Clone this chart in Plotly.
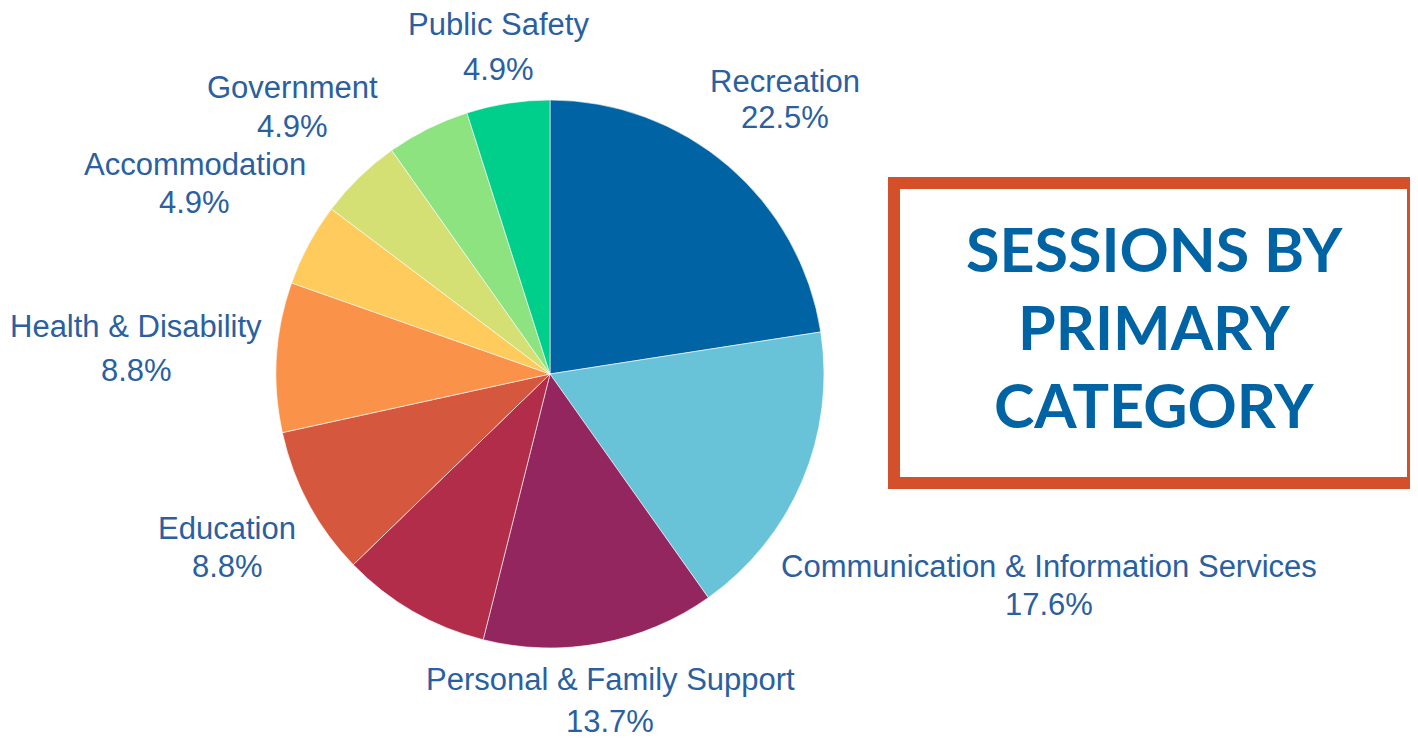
import plotly.graph_objects as go

categories = ["Recreation", "Communication & Information Services", "Personal & Family Support",
              "Community Services", "Education", "Health & Disability", "Employment",
              "Accommodation", "Government", "Public Safety"]
sessions = [23, 18, 14, 9, 9, 9, 5, 5, 5, 5]
show_label = [True, True, True, False, True, True, False, True, True, True]
colors = ["#0064A4", "#68C3D8", "#93265F", "#B12D4A", "#D4573E", "#FB924A",
          "#FECB5C", "#D4DF74", "#8EE381", "#00CF8B"]
title_lines = ["SESSIONS BY", "PRIMARY", "CATEGORY"]

W, H = 1418, 749
PAGE_OFF = 8  # default body margin of the html page


def px(x):
    return (x - PAGE_OFF) / W


def py(y):
    return 1 - (y - PAGE_OFF) / H


cx, cy, r = 550, 374, 274
# label placement (pixel centre x, name line y, percent line y), layout only
label_pos = [(785, 81, 118), (1049, 566, 604), (610, 679, 721), None, (227, 528, 566),
             (136, 326, 370), None, (195, 165, 202), (292, 88, 126), (498, 24, 70)]

total = sum(sessions)

fig = go.Figure(go.Pie(
    labels=categories, values=sessions, textinfo="none",
    sort=False, direction="clockwise", rotation=0,
    marker=dict(colors=colors, line=dict(color="white", width=0.6)),
    domain=dict(x=[px(cx - r), px(cx + r)], y=[py(cy + r), py(cy - r)]),
    showlegend=False, hoverinfo="label+percent",
))

lab_font = dict(family="Liberation Sans, Arial, sans-serif", size=31, color="#2A609F")
for c, v, s, pos in zip(categories, sessions, show_label, label_pos):
    if not s or pos is None:
        continue
    x, y1, y2 = pos
    fig.add_annotation(xref="paper", yref="paper", x=px(x), y=py(y1), text=c,
                       showarrow=False, font=lab_font, xanchor="center", yanchor="middle")
    fig.add_annotation(xref="paper", yref="paper", x=px(x), y=py(y2),
                       text=f"{v / total * 100:.1f}%",
                       showarrow=False, font=lab_font, xanchor="center", yanchor="middle")

fig.add_shape(type="rect", xref="paper", yref="paper",
              x0=px(894), x1=px(1413), y0=py(483), y1=py(183),
              line=dict(color="#D4502B", width=12), fillcolor="rgba(0,0,0,0)", layer="below")
title_y = [249, 326, 404]
title_font = dict(family="Lato, Noto Sans, sans-serif", size=61, color="#0064A4")
for t, y in zip(title_lines, title_y):
    fig.add_annotation(xref="paper", yref="paper", x=px(1154), y=py(y),
                       text=f"<b>{t}</b>", showarrow=False, font=title_font,
                       xanchor="center", yanchor="middle")

fig.update_layout(width=W, height=H, margin=dict(l=0, r=0, t=0, b=0),
                  paper_bgcolor="white", plot_bgcolor="white")
fig.write_html("out.html")
